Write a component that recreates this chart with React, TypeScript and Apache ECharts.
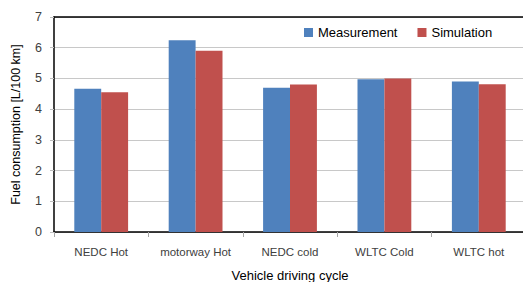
import React, { useEffect, useRef } from "react";
import * as echarts from "echarts";

const categories = ["NEDC Hot", "motorway Hot", "NEDC cold", "WLTC Cold", "WLTC hot"];
const measurement = [4.66, 6.24, 4.7, 4.97, 4.9];
const simulation = [4.55, 5.9, 4.8, 5.0, 4.81];

export default function App() {
  const ref = useRef<HTMLDivElement>(null);
  useEffect(() => {
    document.body.style.margin = "0";
    const chart = echarts.init(ref.current!, null, { renderer: "svg" });
    chart.setOption({
      animation: false,
      backgroundColor: "#fff",
      grid: { left: 54, top: 17, width: 472, height: 215, outerBoundsMode: "none", containLabel: false },
      legend: {
        left: 304,
        top: 26,
        padding: 0,
        itemWidth: 9,
        itemHeight: 9,
        itemGap: 20,
        icon: "rect",
        textStyle: { fontSize: 13, fontFamily: "Liberation Sans", color: "#000" },
        data: ["Measurement", "Simulation"],
      },
      xAxis: [
        {
          type: "category",
          data: categories,
          axisLine: { lineStyle: { color: "#000", width: 1.5 } },
          axisTick: { show: true, length: 5, lineStyle: { color: "#a6a6a6" } },
          axisLabel: { fontSize: 11.5, fontFamily: "Liberation Sans", color: "#404040", margin: 14 },
          name: "Vehicle driving cycle",
          nameLocation: "middle",
          nameGap: 37,
          nameTextStyle: { fontSize: 13, fontFamily: "Liberation Sans", color: "#000" },
        },
        {
          type: "category",
          position: "top",
          data: categories,
          axisLine: { show: true, lineStyle: { color: "#000", width: 1.5 } },
          axisTick: { show: false },
          axisLabel: { show: false },
        },
      ],
      yAxis: {
        type: "value",
        min: 0,
        max: 7,
        interval: 1,
        axisLine: { show: true, lineStyle: { color: "#000", width: 1.5 } },
        axisTick: { show: true, length: 4, lineStyle: { color: "#bfbfbf" } },
        splitLine: { lineStyle: { color: "#c8c8c8", width: 1 } },
        axisLabel: { fontSize: 12.5, fontFamily: "Liberation Sans", color: "#404040", margin: 12 },
        name: "Fuel consumption [L/100 km]",
        nameLocation: "middle",
        nameGap: 32,
        nameTextStyle: { fontSize: 12.5, fontFamily: "Liberation Sans", color: "#000" },
      },
      series: [
        {
          name: "Measurement",
          type: "bar",
          data: measurement,
          itemStyle: { color: "#4F81BD" },
          barGap: "0%",
          barCategoryGap: "43%",
        },
        {
          name: "Simulation",
          type: "bar",
          data: simulation,
          itemStyle: { color: "#C0504D" },
          barGap: "0%",
          barCategoryGap: "43%",
        },
      ],
    });
    return () => chart.dispose();
  }, []);
  return <div ref={ref} style={{ width: 523, height: 282 }} />;
}
